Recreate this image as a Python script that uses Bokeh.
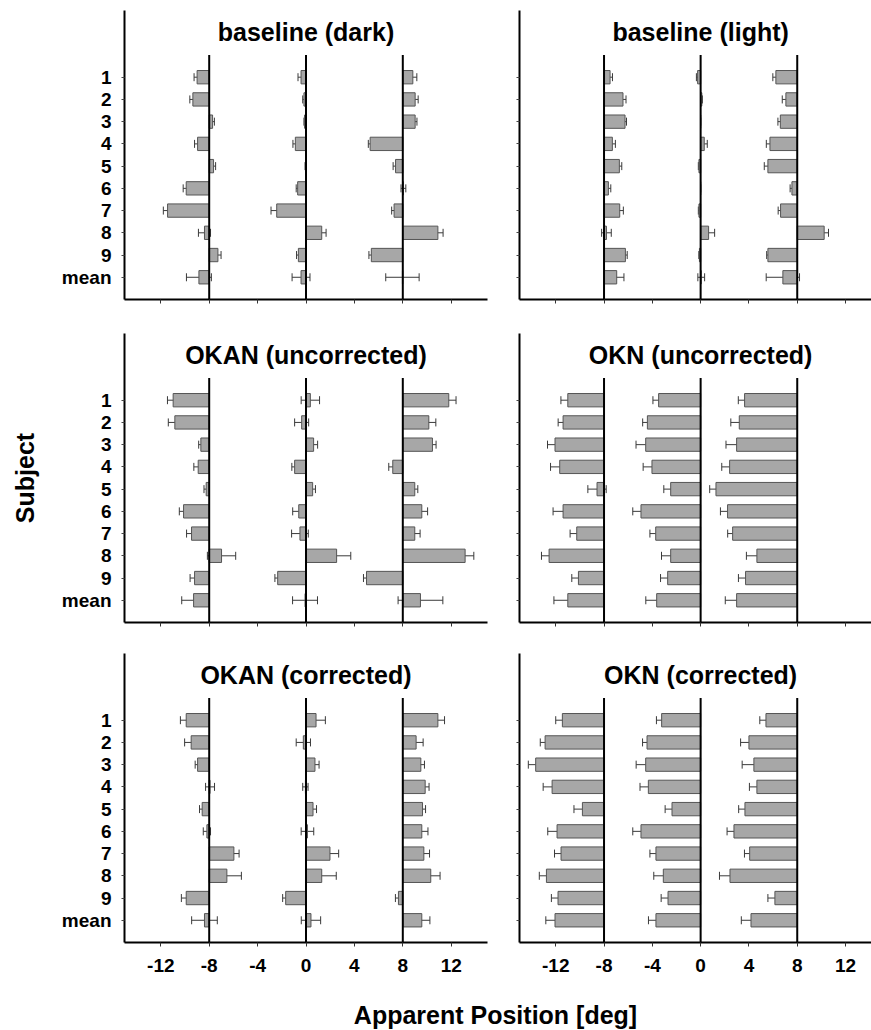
from bokeh.plotting import figure
from bokeh.layouts import column, row
from bokeh.models import Range1d, FixedTicker, ColumnDataSource, Whisker, TeeHead, Label
from bokeh.core.properties import value
from bokeh.embed import file_html
from bokeh.resources import INLINE

# ---------------------------------------------------------------- data
subjects = ["1", "2", "3", "4", "5", "6", "7", "8", "9", "mean"]
row_pos = list(range(1, len(subjects) + 1))
x_ticks = [-12, -8, -4, 0, 4, 8, 12]
x_tick_labels = ["-12", "-8", "-4", "0", "4", "8", "12"]
targets = [-8, 0, 8]  # true target positions [deg]

# baseline (dark)
dark_m8 = [-9.0, -9.35, -7.72, -8.96, -7.64, -9.9, -11.44, -8.39, -7.28, -8.85]
dark_m8_err = [0.25, 0.25, 0.15, 0.25, 0.17, 0.25, 0.35, 0.5, 0.26, 1.03]
dark_0 = [-0.41, -0.17, -0.12, -0.88, -0.03, -0.69, -2.42, 1.3, -0.63, -0.41]
dark_0_err = [0.25, 0.1, 0.05, 0.2, 0.05, 0.12, 0.47, 0.36, 0.15, 0.74]
dark_p8 = [8.83, 9.02, 9.02, 5.3, 7.4, 8.05, 7.28, 10.9, 5.4, 7.97]
dark_p8_err = [0.33, 0.25, 0.15, 0.15, 0.2, 0.2, 0.2, 0.43, 0.2, 1.38]

# baseline (light)
light_m8 = [-7.5, -6.43, -6.26, -7.31, -6.73, -7.64, -6.7, -7.8, -6.23, -6.95]
light_m8_err = [0.2, 0.25, 0.12, 0.25, 0.2, 0.2, 0.3, 0.4, 0.15, 0.6]
light_0 = [-0.25, 0.1, 0.0, 0.3, -0.14, 0.0, -0.14, 0.66, -0.1, 0.05]
light_0_err = [0.1, 0.05, 0.0, 0.25, 0.05, 0.0, 0.05, 0.5, 0.05, 0.28]
light_p8 = [6.23, 7.06, 6.6, 5.74, 5.57, 7.56, 6.62, 10.23, 5.57, 6.81]
light_p8_err = [0.25, 0.3, 0.2, 0.3, 0.3, 0.15, 0.2, 0.36, 0.1, 1.38]

# OKAN (uncorrected)
okan_u_m8 = [-10.98, -10.84, -8.69, -8.91, -8.25, -10.12, -9.46, -6.98, -9.21, -9.29]
okan_u_m8_err = [0.47, 0.54, 0.18, 0.36, 0.18, 0.35, 0.41, 1.17, 0.37, 0.98]
okan_u_0 = [0.36, -0.36, 0.63, -0.94, 0.55, -0.6, -0.5, 2.53, -2.34, -0.08]
okan_u_0_err = [0.76, 0.58, 0.33, 0.23, 0.23, 0.5, 0.69, 1.17, 0.23, 1.03]
okan_u_p8 = [11.8, 10.15, 10.45, 7.17, 8.99, 9.57, 8.99, 13.15, 5.0, 9.46]
okan_u_p8_err = [0.6, 0.58, 0.3, 0.33, 0.25, 0.48, 0.44, 0.72, 0.25, 1.85]

# OKN (uncorrected)
okn_u_m8 = [-11.0, -11.39, -12.06, -11.67, -8.58, -11.39, -10.26, -12.55, -10.12, -11.0]
okn_u_m8_err = [0.57, 0.41, 0.62, 0.76, 0.76, 0.83, 0.55, 0.63, 0.55, 1.15]
okn_u_0 = [-3.48, -4.41, -4.55, -4.03, -2.48, -4.94, -3.72, -2.48, -2.73, -3.64]
okn_u_0_err = [0.47, 0.39, 0.8, 0.73, 0.57, 0.68, 0.48, 0.76, 0.59, 0.9]
okn_u_p8 = [3.64, 3.2, 2.98, 2.4, 1.27, 2.23, 2.65, 4.66, 3.72, 2.98]
okn_u_p8_err = [0.52, 0.7, 0.88, 0.65, 0.52, 0.59, 0.41, 0.87, 0.59, 0.94]

# OKAN (corrected)
okan_c_m8 = [-9.9, -9.49, -8.96, -7.93, -8.58, -8.19, -5.96, -6.54, -9.9, -8.39]
okan_c_m8_err = [0.48, 0.54, 0.2, 0.37, 0.22, 0.3, 0.43, 1.2, 0.4, 1.06]
okan_c_0 = [0.83, -0.22, 0.74, -0.05, 0.58, 0.12, 1.98, 1.3, -1.68, 0.41]
okan_c_0_err = [0.77, 0.59, 0.34, 0.22, 0.29, 0.52, 0.72, 1.2, 0.25, 0.8]
okan_c_p8 = [10.9, 9.1, 9.49, 9.85, 9.63, 9.57, 9.74, 10.31, 7.64, 9.57]
okan_c_p8_err = [0.55, 0.58, 0.3, 0.32, 0.25, 0.51, 0.47, 0.77, 0.25, 0.67]

# OKN (corrected)
okn_c_m8 = [-11.45, -12.88, -13.66, -12.3, -9.79, -11.89, -11.56, -12.77, -11.81, -12.06]
okn_c_m8_err = [0.55, 0.4, 0.61, 0.74, 0.7, 0.77, 0.54, 0.59, 0.55, 0.76]
okn_c_0 = [-3.23, -4.44, -4.55, -4.33, -2.37, -4.94, -3.7, -3.09, -2.7, -3.7]
okn_c_0_err = [0.43, 0.37, 0.79, 0.69, 0.57, 0.68, 0.5, 0.79, 0.57, 0.62]
okn_c_p8 = [5.41, 4.0, 4.41, 4.66, 3.67, 2.76, 4.06, 2.43, 6.15, 4.17]
okn_c_p8_err = [0.51, 0.69, 0.97, 0.62, 0.52, 0.57, 0.43, 0.87, 0.58, 0.8]

panel_titles = ["baseline (dark)", "baseline (light)",
                "OKAN (uncorrected)", "OKN (uncorrected)",
                "OKAN (corrected)", "OKN (corrected)"]

panels = [
    [(dark_m8, dark_m8_err), (dark_0, dark_0_err), (dark_p8, dark_p8_err)],
    [(light_m8, light_m8_err), (light_0, light_0_err), (light_p8, light_p8_err)],
    [(okan_u_m8, okan_u_m8_err), (okan_u_0, okan_u_0_err), (okan_u_p8, okan_u_p8_err)],
    [(okn_u_m8, okn_u_m8_err), (okn_u_0, okn_u_0_err), (okn_u_p8, okn_u_p8_err)],
    [(okan_c_m8, okan_c_m8_err), (okan_c_0, okan_c_0_err), (okan_c_p8, okan_c_p8_err)],
    [(okn_c_m8, okn_c_m8_err), (okn_c_0, okn_c_0_err), (okn_c_p8, okn_c_p8_err)],
]

# ---------------------------------------------------------------- style
FONT = "Liberation Sans"
BAR_FILL = "#a7a7a7"
BAR_LINE = "#555555"
ERR_COLOR = "#3a3a3a"

LEFT_W, RIGHT_W = 500, 371
ROW_BORDERS = [(10, 20), (14, 20), (11, 45)]  # (top, bottom) border per row
FRAME_H = 289


def make_panel(idx):
    r, c = divmod(idx, 2)
    top, bottom = ROW_BORDERS[r]
    left_col = c == 0
    width = LEFT_W if left_col else RIGHT_W
    x_end = 15.0 if left_col else 14.15
    p = figure(width=width, height=top + FRAME_H + bottom,
               x_range=Range1d(-15, x_end), y_range=Range1d(11, -2),
               output_backend="svg", toolbar_location=None, title=None,
               min_border_left=124 if left_col else 19,
               min_border_right=13 if left_col else 0,
               min_border_top=top, min_border_bottom=bottom)
    p.outline_line_color = None
    p.grid.visible = False
    p.background_fill_color = "white"
    p.border_fill_color = "white"

    # bars start at the target and end at the apparent position
    for target, (vals, errs) in zip(targets, panels[idx]):
        src = ColumnDataSource(dict(
            y=row_pos, v=vals, t=[target] * len(vals),
            lo=[v - e for v, e in zip(vals, errs)],
            hi=[v + e for v, e in zip(vals, errs)]))
        p.hbar(y="y", left="t", right="v", height=0.6, source=src,
               fill_color=BAR_FILL, line_color=BAR_LINE, line_width=1)
        w = Whisker(source=src, base="y", lower="lo", upper="hi",
                    dimension="width", line_color=ERR_COLOR, line_width=1,
                    lower_head=TeeHead(size=8, line_color=ERR_COLOR, line_width=1),
                    upper_head=TeeHead(size=8, line_color=ERR_COLOR, line_width=1))
        p.add_layout(w)

    # target lines
    p.segment(x0=targets, x1=targets, y0=[0] * 3, y1=[11] * 3,
              line_color="black", line_width=2)

    # panel heading
    p.text(x=[0], y=[-1.05], text=[panel_titles[idx]], text_align="center",
           text_baseline="middle", text_font=value(FONT), text_font_style="bold",
           text_font_size="25px", text_color="black")

    # x axis
    xa = p.xaxis[0]
    xa.ticker = FixedTicker(ticks=x_ticks)
    xa.major_label_overrides = dict(zip(x_ticks, x_tick_labels))
    xa.axis_line_width = 2
    xa.axis_line_color = "black"
    xa.major_tick_in = 0
    xa.major_tick_out = 4
    xa.major_tick_line_color = "#333333"
    xa.minor_tick_line_color = None
    if r == 2:
        xa.major_label_text_font = FONT
        xa.major_label_text_font_style = "bold"
        xa.major_label_text_font_size = "19px"
        xa.major_label_text_color = "black"
        xa.major_label_standoff = 12
    else:
        xa.major_label_text_font_size = "1px"
        xa.major_label_text_color = None
        xa.major_label_standoff = 0

    # y axis
    ya = p.yaxis[0]
    ya.ticker = FixedTicker(ticks=row_pos)
    ya.major_label_overrides = dict(zip(row_pos, subjects))
    ya.axis_line_width = 2
    ya.axis_line_color = "black"
    ya.major_tick_in = 0
    ya.major_tick_out = 3
    ya.major_tick_line_color = "#444444"
    ya.minor_tick_line_color = None
    if left_col:
        ya.major_label_text_font = FONT
        ya.major_label_text_font_style = "bold"
        ya.major_label_text_font_size = "19px"
        ya.major_label_text_color = "black"
        ya.major_label_standoff = 10
        if r == 1:
            ya.axis_label = "Subject"
            ya.axis_label_text_font = FONT
            ya.axis_label_text_font_style = "bold"
            ya.axis_label_text_font_size = "25px"
            ya.axis_label_text_color = "black"
            ya.axis_label_standoff = 20
    else:
        ya.major_label_text_font_size = "1px"
        ya.major_label_text_color = None
        ya.major_label_standoff = 0
    return p


figs = [make_panel(i) for i in range(6)]

# shared x-axis caption across both columns
cap = figure(width=LEFT_W + RIGHT_W, height=43, output_backend="svg",
             toolbar_location=None, title=None, x_axis_type=None, y_axis_type=None,
             min_border=0, x_range=Range1d(0, 1), y_range=Range1d(0, 1))
cap.outline_line_color = None
cap.grid.visible = False
cap.add_layout(Label(x=495, y=16, x_units="screen", y_units="screen",
                     text="Apparent Position [deg]", text_align="center",
                     text_baseline="middle", text_font=FONT, text_font_style="bold",
                     text_font_size="25px", text_color="black"))

layout = column(row(figs[0], figs[1]), row(figs[2], figs[3]),
                row(figs[4], figs[5]), cap)

with open("out.html", "w") as f:
    f.write(file_html(layout, INLINE))
